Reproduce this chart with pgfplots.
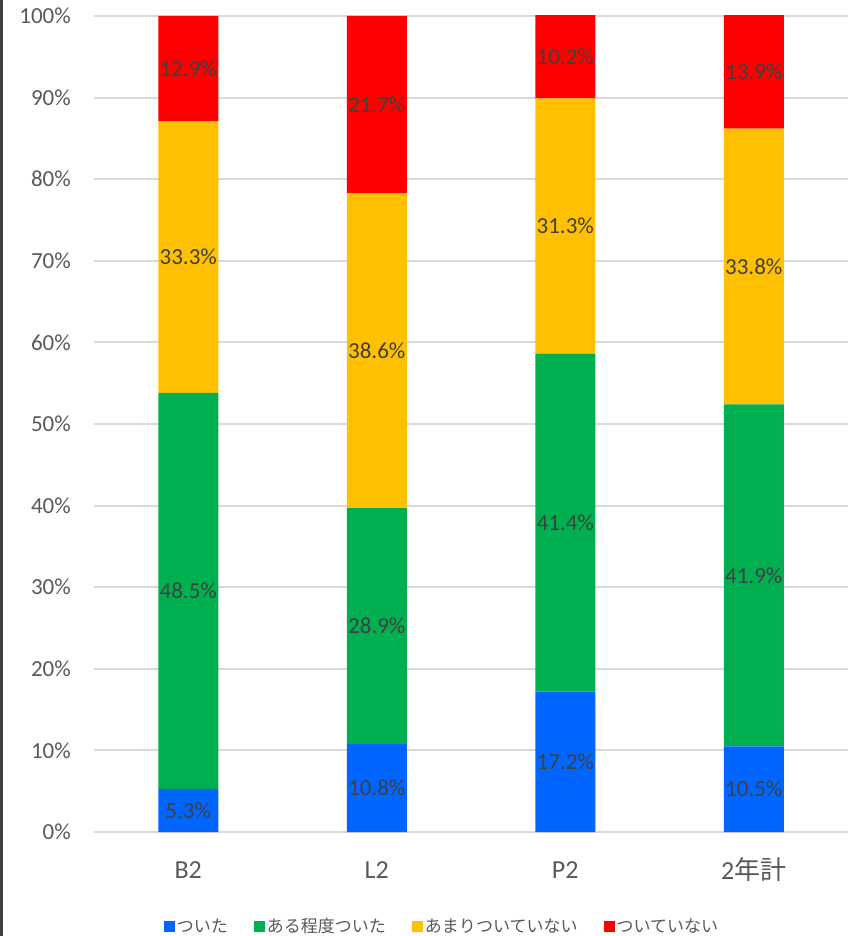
\documentclass[border=0pt]{standalone}
\usepackage{fontspec}
\setmainfont{Carlito}
\newfontfamily\cjk{Noto Sans CJK JP}
\usepackage{pgfplots}
\pgfplotsset{compat=1.18}

\definecolor{cBlue}{HTML}{0066FF}
\definecolor{cGreen}{HTML}{00B050}
\definecolor{cYellow}{HTML}{FFC000}
\definecolor{cRed}{HTML}{FF0000}
\definecolor{tickgray}{HTML}{595959}
\definecolor{labelgray}{HTML}{404040}
\definecolor{gridgray}{HTML}{D9D9D9}

\pgfplotsset{
  base/.style={
    scale only axis,
    width=754pt, height=816pt,
    at={(94pt,104pt)}, anchor=south west,
    xmin=-0.5, xmax=3.5,
    ymin=0, ymax=100,
  },
}

\begin{document}
\begin{tikzpicture}
\path[use as bounding box] (0,0) rectangle (852pt,936pt);
\draw[labelgray, line width=2.5pt] (1.25pt,0) -- (1.25pt,936pt);

\begin{axis}[
    base,
    ybar stacked,
    bar width=60pt,
    axis line style={draw=none},
    major tick length=0pt,
    ymajorgrids=true,
    grid style={gridgray, line width=2pt},
    ytick={0,10,...,100},
    yticklabel={\pgfmathprintnumber{\tick}\%},
    /pgf/number format/assume math mode=true,
    yticklabel style={font=\fontsize{23}{26}\selectfont, text=tickgray, inner sep=0pt, xshift=-23pt},
    xtick={0,1,2,3},
    xticklabels={B2, L2, P2, {2\cjk 年計}},
    xticklabel style={font=\fontsize{26}{30}\selectfont, text=tickgray, anchor=center, yshift=-38pt},
    legend columns=4,
    legend style={at={(axis description cs:0.4615,-0.1152)}, anchor=center, draw=none,
        font=\cjk\fontsize{17}{20}\selectfont, text=tickgray,
        /tikz/every even column/.append style={column sep=24pt}},
    legend image code/.code={\fill[#1] (0pt,-5.5pt) rectangle (11pt,5.5pt);},
]
\addplot[fill=cBlue, draw=none] coordinates {(0,5.3) (1,10.8) (2,17.2) (3,10.5)};
\addplot[fill=cGreen, draw=none] coordinates {(0,48.5) (1,28.9) (2,41.4) (3,41.9)};
\addplot[fill=cYellow, draw=none] coordinates {(0,33.3) (1,38.6) (2,31.3) (3,33.8)};
\addplot[fill=cRed, draw=none] coordinates {(0,12.9) (1,21.7) (2,10.2) (3,13.9)};
\legend{ついた, ある程度ついた, あまりついていない, ついていない}
\end{axis}

% segment labels, at the middle of each segment
\begin{axis}[
    base,
    hide axis,
    clip=false,
    point meta=explicit,
    nodes near coords={\pgfmathprintnumber[fixed,precision=1,fixed zerofill]{\pgfplotspointmeta}\%},
    nodes near coords align={center},
    /pgf/number format/assume math mode=true,
    every node near coord/.append style={font=\fontsize{23}{26}\selectfont, text=labelgray, inner sep=0pt},
]
\addplot[only marks, mark=none] coordinates {(0,2.65) [5.3] (1,5.4) [10.8] (2,8.6) [17.2] (3,5.25) [10.5]};
\addplot[only marks, mark=none] coordinates {(0,29.55) [48.5] (1,25.25) [28.9] (2,37.9) [41.4] (3,31.45) [41.9]};
\addplot[only marks, mark=none] coordinates {(0,70.45) [33.3] (1,59.0) [38.6] (2,74.25) [31.3] (3,69.3) [33.8]};
\addplot[only marks, mark=none] coordinates {(0,93.55) [12.9] (1,89.15) [21.7] (2,95.0) [10.2] (3,93.15) [13.9]};
\end{axis}
\end{tikzpicture}
\end{document}
